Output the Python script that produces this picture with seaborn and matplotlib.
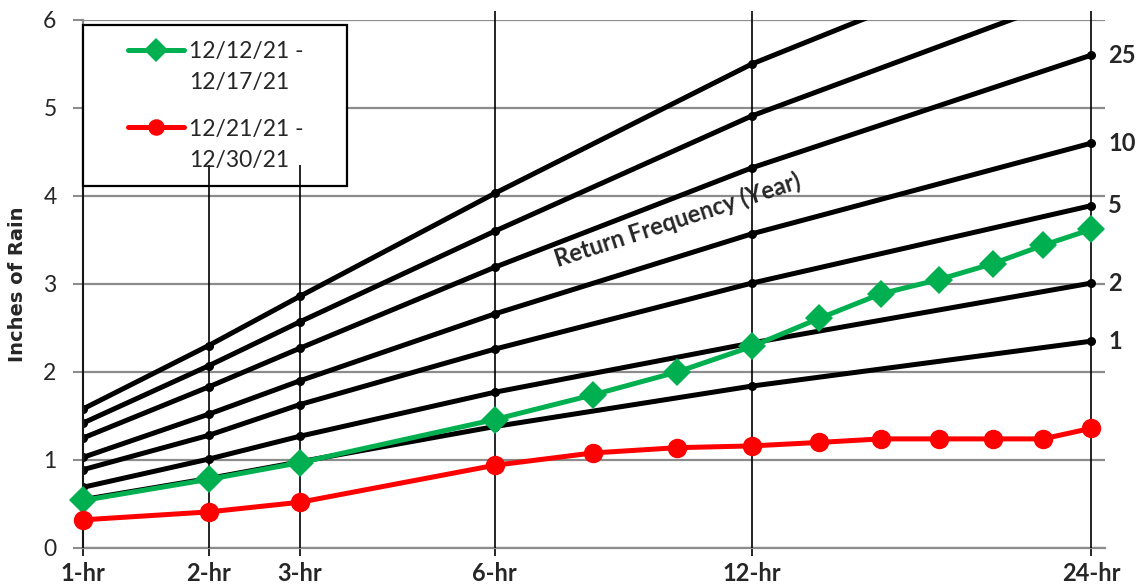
import matplotlib
matplotlib.use('Agg')
import matplotlib.pyplot as plt
import seaborn as sns
import pandas as pd
import numpy as np
from matplotlib.patches import Rectangle, Shadow

# return-frequency curves (inches of rain by storm duration)
durations = [1, 2, 3, 6, 12, 24]
duration_labels = ['1-hr', '2-hr', '3-hr', '6-hr', '12-hr', '24-hr']
rf_years = [1, 2, 5, 10, 25, 50, 100]
rf_1 = [0.55, 0.79, 0.98, 1.38, 1.84, 2.35]
rf_2 = [0.69, 1.01, 1.27, 1.77, 2.33, 3.01]
rf_5 = [0.89, 1.28, 1.63, 2.26, 3.01, 3.89]
rf_10 = [1.03, 1.52, 1.90, 2.66, 3.57, 4.60]
rf_25 = [1.25, 1.83, 2.27, 3.19, 4.32, 5.60]
rf_50 = [1.42, 2.07, 2.57, 3.60, 4.91, 6.34]
rf_100 = [1.58, 2.30, 2.86, 4.03, 5.50, 7.05]
labelled_years = [1, 2, 5, 10, 25]

# observed storms
storm_hours = [1, 2, 3, 6, 8, 10, 12, 14, 16, 18, 20, 22, 24]
storm1_label = '12/12/21 -\n12/17/21'
storm1 = [0.54, 0.78, 0.97, 1.46, 1.74, 2.00, 2.29, 2.61, 2.89, 3.05, 3.23, 3.44, 3.62]
storm2_label = '12/21/21 -\n12/30/21'
storm2 = [0.32, 0.41, 0.52, 0.94, 1.08, 1.14, 1.16, 1.20, 1.24, 1.24, 1.24, 1.24, 1.36]

rf_values = [rf_1, rf_2, rf_5, rf_10, rf_25, rf_50, rf_100]
rf = pd.DataFrame({
    'hours': durations * len(rf_years),
    'year': np.repeat(rf_years, len(durations)),
    'inches': np.concatenate(rf_values),
})

sns.set_style('white')
plt.rcParams['font.family'] = ['Lato', 'DejaVu Sans']

fig = plt.figure(figsize=(11.39, 5.86), dpi=100)
ax = fig.add_axes([83 / 1139, 38 / 586, 1022 / 1139, 528 / 586])


def fwd(x):
    return np.sign(x) * np.abs(x) ** 0.4


def inv(x):
    return np.sign(x) * np.abs(x) ** 2.5


ax.set_xscale('function', functions=(fwd, inv))

sns.lineplot(data=rf, x='hours', y='inches', units='year', estimator=None,
             color='black', lw=3.6, marker='o', markersize=6.5,
             markeredgewidth=0, sort=False, legend=False, ax=ax, zorder=2)
sns.lineplot(x=storm_hours, y=storm1, color='#00b050', lw=3.6, marker='D',
             markersize=14, markeredgewidth=0, label=storm1_label, ax=ax,
             zorder=4, clip_on=False)
sns.lineplot(x=storm_hours, y=storm2, color='#ff0000', lw=3.6, marker='o',
             markersize=14, markeredgewidth=0, label=storm2_label, ax=ax,
             zorder=4, clip_on=False)

# drop lines at each duration
for h in durations:
    top = 4.35 if h <= 3 else 6.1
    ax.vlines(h, 0, top, color='black', lw=1.2, zorder=3, clip_on=False)

# return period labels at the right end
for yr in labelled_years:
    v = rf_values[rf_years.index(yr)][-1]
    ax.annotate(str(yr), (24, v), xytext=(17, 0), textcoords='offset pixels',
                ha='left', va='center', fontsize=17, fontweight='bold',
                annotation_clip=False)

ax.text(10, 3.73, 'Return Frequency (Year)', rotation=18, rotation_mode='anchor',
        ha='center', va='center', fontsize=17, fontweight='bold', zorder=5)

ax.set_xlim(1, 24.6)
ax.set_ylim(0, 6)
ax.set_xticks(durations)
ax.set_xticklabels(duration_labels, fontsize=17, fontweight='bold')
ax.set_yticks(range(7))
ax.set_yticklabels([str(i) for i in range(7)], fontsize=16.5)
ax.xaxis.set_minor_locator(matplotlib.ticker.NullLocator())
ax.tick_params(axis='x', length=6, width=1.2, color='black', pad=4, direction='out', bottom=True)
ax.tick_params(axis='y', length=7, width=1.5, color='#8c8c8c', pad=12, direction='out', left=True)
ax.set_xlabel('')
ax.set_ylabel('Inches of Rain', fontsize=14, fontweight='bold',
              family=['DejaVu Sans'])
ax.yaxis.set_label_coords(-0.0548, 0.5)

ax.grid(axis='y', color='#8c8c8c', lw=1.6)
ax.set_axisbelow(True)
for s in ['top', 'right']:
    ax.spines[s].set_visible(False)
for s in ['left', 'bottom']:
    ax.spines[s].set_color('#8c8c8c')
    ax.spines[s].set_linewidth(1.6)

# legend box
frame = Rectangle((0, 0.6856), 0.2583, 0.3049, transform=ax.transAxes,
                  facecolor='white', edgecolor='black', lw=1.6, zorder=2.7,
                  clip_on=False)
shadow = Shadow(frame, 2.5, -2.5)
shadow.set_zorder(2.6)
ax.add_patch(shadow)
ax.add_patch(frame)

leg = ax.legend(loc='upper left', bbox_to_anchor=(0.033, 0.981), frameon=False,
                borderpad=0, handlelength=2.44, handletextpad=0.2,
                labelspacing=1.15, fontsize=16.5, markerscale=0.85)
for t in leg.get_texts():
    t.set_linespacing(1.55)
# put each legend symbol level with the first line of its label
for hd in leg.legend_handles:
    hd.set_ydata(np.asarray(hd.get_ydata()) + 13)

fig.savefig('out.png', dpi=100)
